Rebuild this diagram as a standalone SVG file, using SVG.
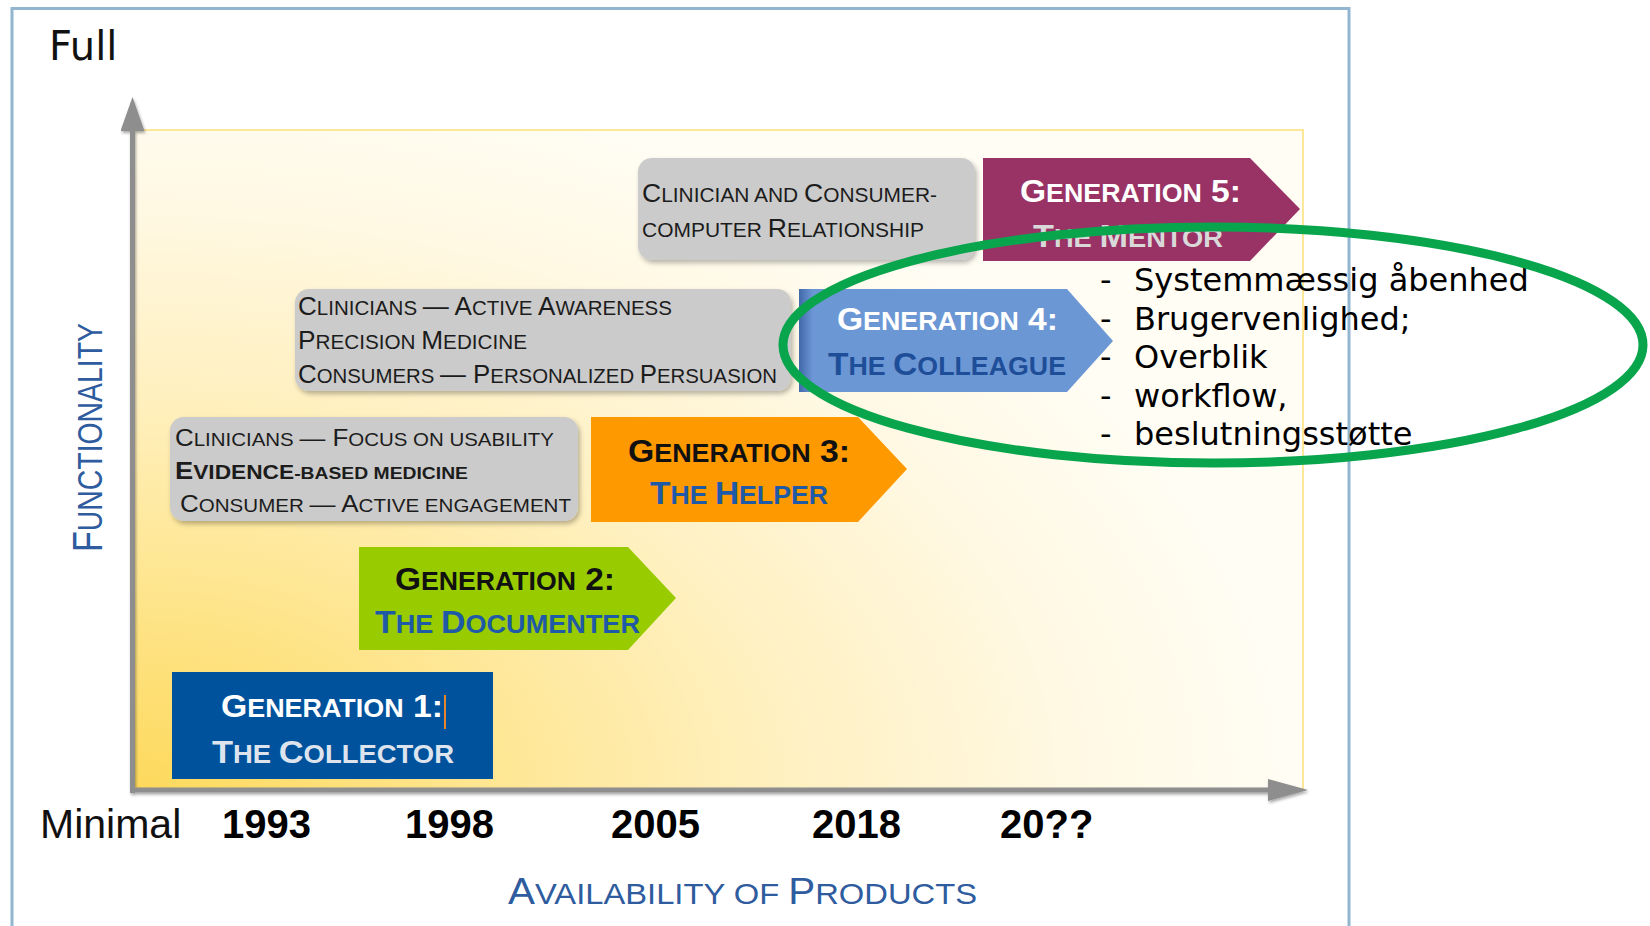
<svg xmlns="http://www.w3.org/2000/svg" width="1650" height="926" viewBox="0 0 1650 926">
<defs>
  <radialGradient id="bg" gradientUnits="userSpaceOnUse" cx="140" cy="790" r="1000" gradientTransform="translate(140 790) scale(1.15 0.72) translate(-140 -790)">
    <stop offset="0" stop-color="#fdd95c"/>
    <stop offset="0.28" stop-color="#fee58e"/>
    <stop offset="0.55" stop-color="#fff0bf"/>
    <stop offset="0.8" stop-color="#fff8e2"/>
    <stop offset="1" stop-color="#fffdf4"/>
  </radialGradient>
  <linearGradient id="g4edge" x1="0" y1="0" x2="1" y2="0">
    <stop offset="0" stop-color="#2f5597" stop-opacity="0.7"/>
    <stop offset="1" stop-color="#2f5597" stop-opacity="0"/>
  </linearGradient>
  <filter id="sh" x="-10%" y="-15%" width="125%" height="140%">
    <feDropShadow dx="2" dy="3" stdDeviation="2.5" flood-color="#000" flood-opacity="0.28"/>
  </filter>
  <filter id="ash" x="-5%" y="-5%" width="110%" height="120%">
    <feDropShadow dx="1" dy="2" stdDeviation="1.5" flood-color="#000" flood-opacity="0.35"/>
  </filter>
  <marker id="arrUp" markerUnits="userSpaceOnUse" markerWidth="35" markerHeight="24" refX="0" refY="12" orient="auto">
    <path d="M0,0 L34,12 L0,24 z" fill="#8e8e8e"/>
  </marker>
  <marker id="arrRight" markerUnits="userSpaceOnUse" markerWidth="41" markerHeight="22" refX="0" refY="11" orient="auto">
    <path d="M0,0 L40,11 L0,22 z" fill="#8e8e8e"/>
  </marker>
</defs>
<style>
  .nar{font-family:"Liberation Sans Narrow","Liberation Sans",Arial,sans-serif}
  .sans{font-family:"Liberation Sans",Arial,sans-serif}
  .dv{font-family:"DejaVu Sans",Verdana,sans-serif}
  .bold{font-weight:bold}
  .gbox{fill:#cbcbcb}
  .desc{fill:#1c1c1c}
  .big{font-size:26px}
  .sm{font-size:20.5px}
  .gbig{font-size:32px}
  .gsm{font-size:25.5px}
  .axis{stroke:#8e8e8e;stroke-width:5;fill:none}
  .lbl{fill:#2e5c9e}
  .year{font-size:40px;font-weight:bold;fill:#000}
  .list{font-size:32px;fill:#000}
</style>

<!-- frame -->
<rect x="12" y="8.5" width="1337" height="940" fill="#ffffff" stroke="#93b6d0" stroke-width="3"/>

<!-- chart area -->
<rect id="chart-area" x="134" y="130" width="1169" height="660" fill="url(#bg)" stroke="#fde89a" stroke-width="2"/>

<!-- axes -->
<g id="axes" filter="url(#ash)">
  <line class="axis" x1="132.5" y1="793" x2="132.5" y2="131" marker-end="url(#arrUp)"/>
  <line class="axis" x1="130" y1="790" x2="1268" y2="790" marker-end="url(#arrRight)"/>
</g>

<!-- axis labels -->
<text class="dv" x="49" y="60" font-size="40" fill="#111">Full</text>
<text class="sans" x="40" y="838" font-size="41" fill="#111">Minimal</text>
<text class="sans year" x="222" y="838">1993</text>
<text class="sans year" x="405" y="838">1998</text>
<text class="sans year" x="611" y="838">2005</text>
<text class="sans year" x="812" y="838">2018</text>
<text class="sans year" x="1000" y="838">20??</text>
<text class="nar lbl" x="508" y="904" textLength="469" lengthAdjust="spacingAndGlyphs"><tspan font-size="37">A</tspan><tspan font-size="30">VAILABILITY OF </tspan><tspan font-size="37">P</tspan><tspan font-size="30">RODUCTS</tspan></text>
<text class="nar lbl" transform="translate(102 552) rotate(-90)" x="0" y="0" textLength="229" lengthAdjust="spacingAndGlyphs"><tspan font-size="42">F</tspan><tspan font-size="35">UNCTIONALITY</tspan></text>

<!-- Generation 1 -->
<g id="gen1">
  <rect x="172" y="672" width="321" height="107" fill="#00529c"/>
  <text class="nar bold" x="221" y="717" fill="#ffffff" textLength="222" lengthAdjust="spacingAndGlyphs"><tspan class="gbig">G</tspan><tspan class="gsm">ENERATION</tspan><tspan class="gbig"> 1:</tspan></text>
  <line x1="445" y1="695" x2="445" y2="729" stroke="#e8842a" stroke-width="2"/>
  <text class="nar bold" x="212" y="763" fill="#dde4ee" textLength="242" lengthAdjust="spacingAndGlyphs"><tspan class="gbig">T</tspan><tspan class="gsm">HE </tspan><tspan class="gbig">C</tspan><tspan class="gsm">OLLECTOR</tspan></text>
</g>

<!-- Generation 2 -->
<g id="gen2">
  <polygon points="359,547 628,547 676,598 628,650 359,650" fill="#99cc00"/>
  <text class="nar bold" x="395" y="590" fill="#111" textLength="220" lengthAdjust="spacingAndGlyphs"><tspan class="gbig">G</tspan><tspan class="gsm">ENERATION</tspan><tspan class="gbig"> 2:</tspan></text>
  <text class="nar bold" x="375" y="633" fill="#1f5aa6" textLength="265" lengthAdjust="spacingAndGlyphs"><tspan class="gbig">T</tspan><tspan class="gsm">HE </tspan><tspan class="gbig">D</tspan><tspan class="gsm">OCUMENTER</tspan></text>
</g>

<!-- Generation 3 description -->
<g id="desc3">
  <rect class="gbox" x="170" y="417" width="408" height="104" rx="14" filter="url(#sh)"/>
  <text class="nar desc" x="175" y="446" textLength="379" lengthAdjust="spacingAndGlyphs"><tspan font-size="24">C</tspan><tspan font-size="19">LINICIANS </tspan><tspan font-size="24">— F</tspan><tspan font-size="19">OCUS ON USABILITY</tspan></text>
  <text class="nar desc bold" x="175" y="479" textLength="293" lengthAdjust="spacingAndGlyphs"><tspan font-size="24">E</tspan><tspan font-size="20">VIDENCE</tspan><tspan font-size="17">-BASED MEDICINE</tspan></text>
  <text class="nar desc" x="180" y="512" textLength="391" lengthAdjust="spacingAndGlyphs"><tspan font-size="24">C</tspan><tspan font-size="19">ONSUMER </tspan><tspan font-size="24">— A</tspan><tspan font-size="19">CTIVE ENGAGEMENT</tspan></text>
</g>

<!-- Generation 3 -->
<g id="gen3">
  <polygon points="591,417 858,417 907,469 858,522 591,522" fill="#ff9900"/>
  <text class="nar bold" x="628" y="462" fill="#111" textLength="222" lengthAdjust="spacingAndGlyphs"><tspan class="gbig">G</tspan><tspan class="gsm">ENERATION</tspan><tspan class="gbig"> 3:</tspan></text>
  <text class="nar bold" x="650" y="504" fill="#1f5aa6" textLength="178" lengthAdjust="spacingAndGlyphs"><tspan class="gbig">T</tspan><tspan class="gsm">HE </tspan><tspan class="gbig">H</tspan><tspan class="gsm">ELPER</tspan></text>
</g>

<!-- Generation 4 description -->
<g id="desc4">
  <rect class="gbox" x="295" y="289" width="496" height="102" rx="14" filter="url(#sh)"/>
  <text class="nar desc" x="298" y="315" textLength="374" lengthAdjust="spacingAndGlyphs"><tspan class="big">C</tspan><tspan class="sm">LINICIANS </tspan><tspan class="big">— A</tspan><tspan class="sm">CTIVE </tspan><tspan class="big">A</tspan><tspan class="sm">WARENESS</tspan></text>
  <text class="nar desc" x="298" y="349" textLength="229" lengthAdjust="spacingAndGlyphs"><tspan class="big">P</tspan><tspan class="sm">RECISION </tspan><tspan class="big">M</tspan><tspan class="sm">EDICINE</tspan></text>
  <text class="nar desc" x="298" y="383" textLength="479" lengthAdjust="spacingAndGlyphs"><tspan class="big">C</tspan><tspan class="sm">ONSUMERS </tspan><tspan class="big">— P</tspan><tspan class="sm">ERSONALIZED </tspan><tspan class="big">P</tspan><tspan class="sm">ERSUASION</tspan></text>
</g>

<!-- Generation 4 -->
<g id="gen4">
  <polygon points="799,289 1067,289 1113,341 1067,392 799,392" fill="#6c97d5"/>
  <rect x="799" y="289" width="14" height="103" fill="url(#g4edge)"/>
  <text class="nar bold" x="837" y="330" fill="#ffffff" textLength="221" lengthAdjust="spacingAndGlyphs"><tspan class="gbig">G</tspan><tspan class="gsm">ENERATION</tspan><tspan class="gbig"> 4:</tspan></text>
  <text class="nar bold" x="828" y="375" fill="#1f4e99" textLength="238" lengthAdjust="spacingAndGlyphs"><tspan class="gbig">T</tspan><tspan class="gsm">HE </tspan><tspan class="gbig">C</tspan><tspan class="gsm">OLLEAGUE</tspan></text>
</g>

<!-- Generation 5 description -->
<g id="desc5">
  <rect class="gbox" x="638" y="158" width="337" height="102" rx="14" filter="url(#sh)"/>
  <text class="nar desc" x="642" y="202" textLength="295" lengthAdjust="spacingAndGlyphs"><tspan class="big">C</tspan><tspan class="sm">LINICIAN AND </tspan><tspan class="big">C</tspan><tspan class="sm">ONSUMER-</tspan></text>
  <text class="nar desc" x="642" y="237" textLength="282" lengthAdjust="spacingAndGlyphs"><tspan class="sm">COMPUTER </tspan><tspan class="big">R</tspan><tspan class="sm">ELATIONSHIP</tspan></text>
</g>

<!-- Generation 5 -->
<g id="gen5">
  <polygon points="983,158 1250,158 1300,209 1250,261 983,261" fill="#993366"/>
  <text class="nar bold" x="1020" y="202" fill="#ffffff" textLength="221" lengthAdjust="spacingAndGlyphs"><tspan class="gbig">G</tspan><tspan class="gsm">ENERATION</tspan><tspan class="gbig"> 5:</tspan></text>
  <text class="nar bold" x="1033" y="247" fill="#d9d9d9" textLength="190" lengthAdjust="spacingAndGlyphs"><tspan class="gbig">T</tspan><tspan class="gsm">HE </tspan><tspan class="gbig">M</tspan><tspan class="gsm">ENTOR</tspan></text>
</g>

<!-- Danish list -->
<g id="list">
  <text class="dv list" x="1100" y="291">-</text>
  <text class="dv list" x="1134" y="291">Systemmæssig åbenhed</text>
  <text class="dv list" x="1100" y="329.5">-</text>
  <text class="dv list" x="1134" y="329.5">Brugervenlighed;</text>
  <text class="dv list" x="1100" y="368">-</text>
  <text class="dv list" x="1134" y="368">Overblik</text>
  <text class="dv list" x="1100" y="406.5">-</text>
  <text class="dv list" x="1134" y="406.5">workflow,</text>
  <text class="dv list" x="1100" y="445">-</text>
  <text class="dv list" x="1134" y="445">beslutningsstøtte</text>
</g>

<!-- highlight ellipse -->
<g id="highlight">
  <ellipse cx="1213" cy="345" rx="430" ry="118" fill="none" stroke="#09a54d" stroke-width="9"/>
</g>
</svg>
